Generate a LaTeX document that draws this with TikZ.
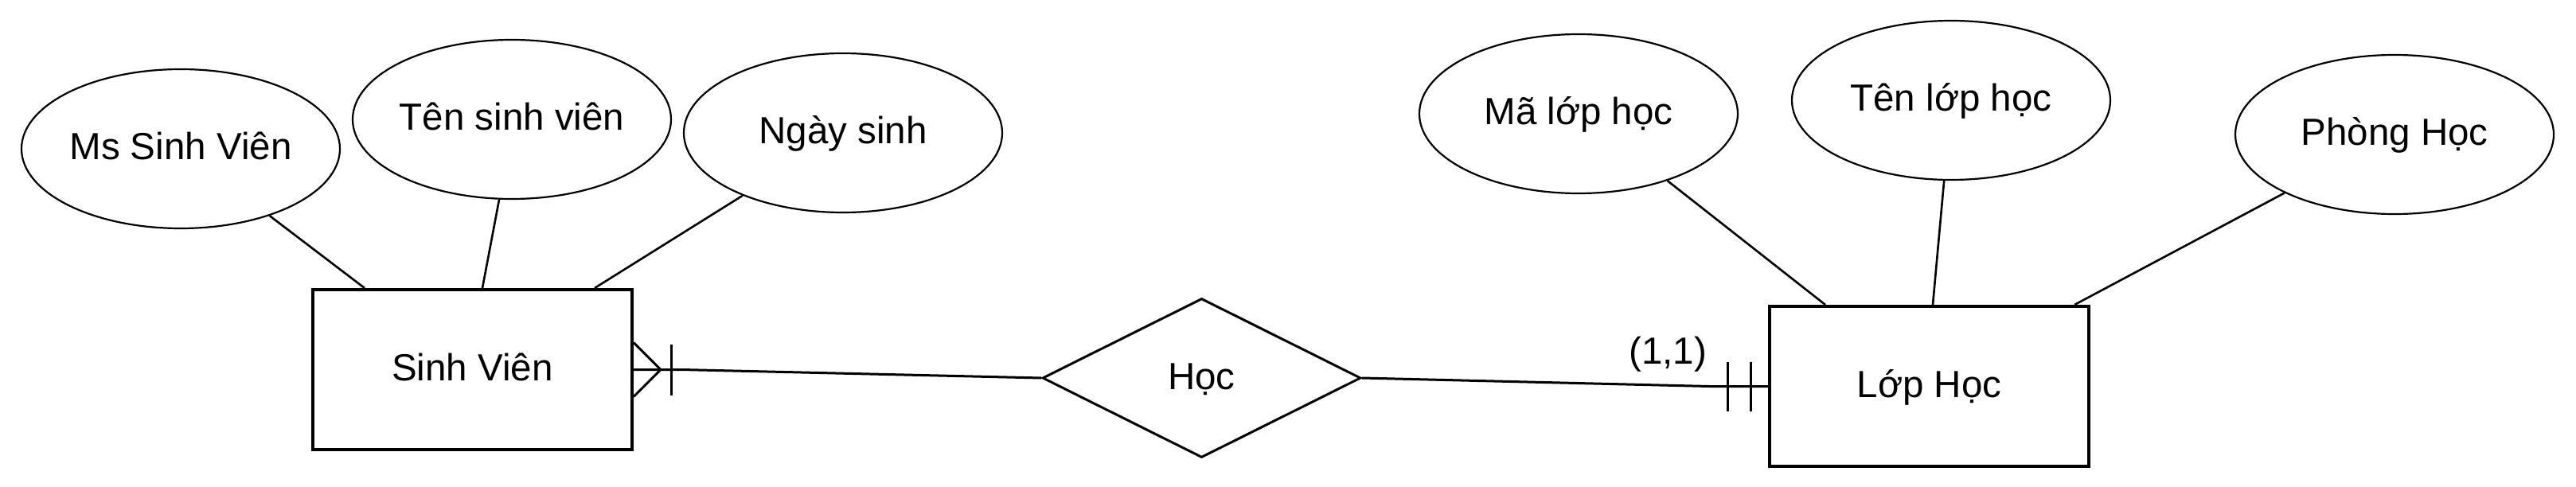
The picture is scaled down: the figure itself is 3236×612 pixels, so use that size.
\documentclass[tikz,border=0pt]{standalone}
\usepackage{fontspec}
\setmainfont{Liberation Sans}
\usetikzlibrary{shapes.geometric,calc}
\begin{document}
\begin{tikzpicture}[x=1pt,y=-1pt,
  txt/.style={font=\fontsize{47.5}{57}\selectfont,text height=40pt,text depth=12pt},
  attr/.style={ellipse,draw,line width=2.2pt,minimum width=400pt,minimum height=200pt,inner sep=0pt,txt},
  entity/.style={rectangle,draw,line width=4pt,minimum width=401pt,minimum height=201pt,inner sep=0pt,txt},
  rel/.style={diamond,draw,line width=3pt,minimum width=400pt,minimum height=200pt,aspect=2,inner sep=0pt,txt},
  attrline/.style={line width=2.6pt},
  link/.style={line width=3pt},
]
\useasboundingbox (0,0) rectangle (3236,612);
% entities and relationship
\node[entity] (sv) at (593.5,464.5) {Sinh Viên};
\node[entity] (lh) at (2423.5,485.5) {Lớp Học};
\node[rel] (hoc) at (1509.5,475) {Học};
% attributes
\node[attr] (ms) at (227,187) {Ms Sinh Viên};
\node[attr] (tsv) at (643,150) {Tên sinh viên};
\node[attr] (ns) at (1059,167) {Ngày sinh};
\node[attr] (ml) at (1983,143) {Mã lớp học};
\node[attr] (tl) at (2451,126) {Tên lớp học};
\node[attr] (ph) at (3008,169) {Phòng Học};
% attribute links
\draw[attrline] (ms.-37) -- ([xshift=67pt]sv.north west);
\draw[attrline] (tsv.-99.5) -- ([xshift=215pt]sv.north west);
\draw[attrline] (ns.212) -- ([xshift=356pt]sv.north west);
\draw[attrline] (ml.-37) -- ([xshift=72pt]lh.north west);
\draw[attrline] (tl.-95.7) -- ([xshift=207pt]lh.north west);
\draw[attrline] (ph.208) -- ([xshift=385pt]lh.north west);
% relationship links
\coordinate (svk) at ($(sv.east)+(60,0)$);
\draw[link] (sv.east) -- (svk) -- (hoc.west);
\draw[link] ($(sv.east)+(0,-34)$) -- ($(sv.east)+(34,0)$) -- ($(sv.east)+(0,34)$);
\draw[link] ($(sv.east)+(47,-32)$) -- ($(sv.east)+(47,32)$);
\coordinate (lhk) at ($(lh.west)+(-74,0)$);
\draw[link] (hoc.east) -- (lhk) -- (lh.west);
\draw[link] ($(lh.west)+(-51,-31)$) -- ($(lh.west)+(-51,31)$);
\draw[link] ($(lh.west)+(-22,-31)$) -- ($(lh.west)+(-22,31)$);
\node[txt,inner sep=0pt] (card) at (2095,443) {(1,1)};
\end{tikzpicture}
\end{document}
